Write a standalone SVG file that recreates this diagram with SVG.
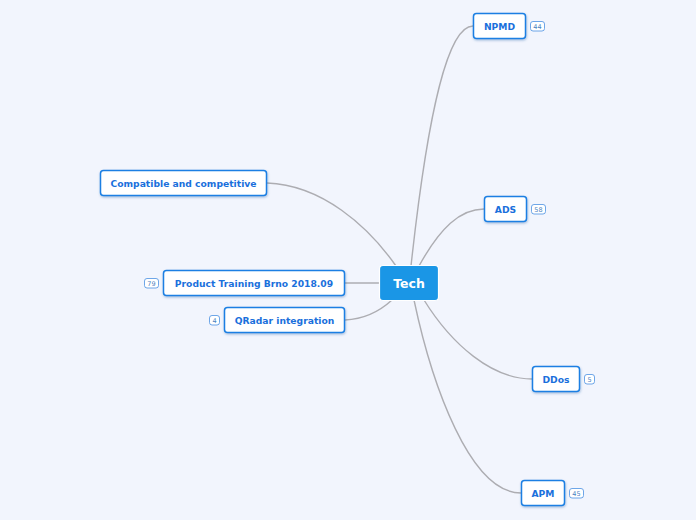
<svg xmlns="http://www.w3.org/2000/svg" width="696" height="520" viewBox="0 0 696 520">
<style>
.node rect{fill:#fff;stroke:#1b7fe3;stroke-width:1.5}
.node text{font-family:"DejaVu Sans",Verdana,sans-serif;font-weight:bold;font-size:9.2px;fill:#1a70dc;text-anchor:middle}
.badge rect{fill:#fff;stroke:#4a90e2;stroke-width:0.8}
.badge text{font-family:"DejaVu Sans",sans-serif;font-size:6.5px;fill:#4a7fc0;text-anchor:middle}
.conn path{fill:none;stroke:#adadb2;stroke-width:1.4;stroke-linecap:round}
</style>
<defs>
<filter id="sh" x="-10%" y="-20%" width="120%" height="150%">
<feDropShadow dx="0.5" dy="1.2" stdDeviation="0.8" flood-color="#1b4f9c" flood-opacity="0.35"/>
</filter>
</defs>
<rect width="696" height="520" fill="#f2f5fd"/>
<g id="connectors" class="conn">
<path d="M411,266 C428,110 448,26 473,26" stroke-width="1.8"/>
<path d="M419,266 C440,228 460,209 484,209"/>
<path d="M424,300 C452,345 492,379 532,379"/>
<path d="M414,300 C432,385 470,493 521,493" stroke-width="1.8"/>
<path d="M267,183 C322,185 368,226 396,266"/>
<path d="M345,283 L380,283"/>
<path d="M345,320 C366,319 380,311 392,300"/>
</g>
<g id="tech">
<rect x="379.5" y="265.5" width="59" height="35" rx="3.5" fill="#1a96e6" stroke="#fff" stroke-width="1.2"/>
<text x="409" y="287.5" font-family="DejaVu Sans,Verdana,sans-serif" font-weight="bold" font-size="12.5" fill="#fff" text-anchor="middle">Tech</text>
</g>
<g id="npmd" class="node">
<rect x="473.5" y="13.5" width="52" height="25" rx="3" filter="url(#sh)"/>
<text x="499.5" y="29.5">NPMD</text>
</g>
<g class="badge"><rect x="530.5" y="21.5" width="14" height="9.5" rx="2.5"/><text x="537.5" y="28.5">44</text></g>
<g id="ads" class="node">
<rect x="484.5" y="196.5" width="42" height="25" rx="3" filter="url(#sh)"/>
<text x="505.5" y="212.5">ADS</text>
</g>
<g class="badge"><rect x="531.5" y="204.5" width="14" height="9.5" rx="2.5"/><text x="538.5" y="211.5">58</text></g>
<g id="ddos" class="node">
<rect x="532.5" y="366.5" width="47" height="25" rx="3" filter="url(#sh)"/>
<text x="556" y="382.5">DDos</text>
</g>
<g class="badge"><rect x="584.5" y="374.5" width="10" height="9.5" rx="2.5"/><text x="589.5" y="381.5">5</text></g>
<g id="apm" class="node">
<rect x="521.5" y="480.5" width="43" height="25" rx="3" filter="url(#sh)"/>
<text x="543" y="496.5">APM</text>
</g>
<g class="badge"><rect x="569.5" y="488.5" width="14" height="9.5" rx="2.5"/><text x="576.5" y="495.5">45</text></g>
<g id="compatible" class="node">
<rect x="100.5" y="170.5" width="166" height="25" rx="3" filter="url(#sh)"/>
<text x="183.5" y="186.5">Compatible and competitive</text>
</g>
<g id="training" class="node">
<rect x="163.5" y="270.5" width="181" height="25" rx="3" filter="url(#sh)"/>
<text x="254" y="286.5">Product Training Brno 2018.09</text>
</g>
<g class="badge"><rect x="144.5" y="278.5" width="14" height="9.5" rx="2.5"/><text x="151.5" y="285.5">79</text></g>
<g id="qradar" class="node">
<rect x="224.5" y="307.5" width="120" height="25" rx="3" filter="url(#sh)"/>
<text x="284.5" y="323.5">QRadar integration</text>
</g>
<g class="badge"><rect x="209.5" y="315.5" width="10" height="9.5" rx="2.5"/><text x="214.5" y="322.5">4</text></g>
</svg>
